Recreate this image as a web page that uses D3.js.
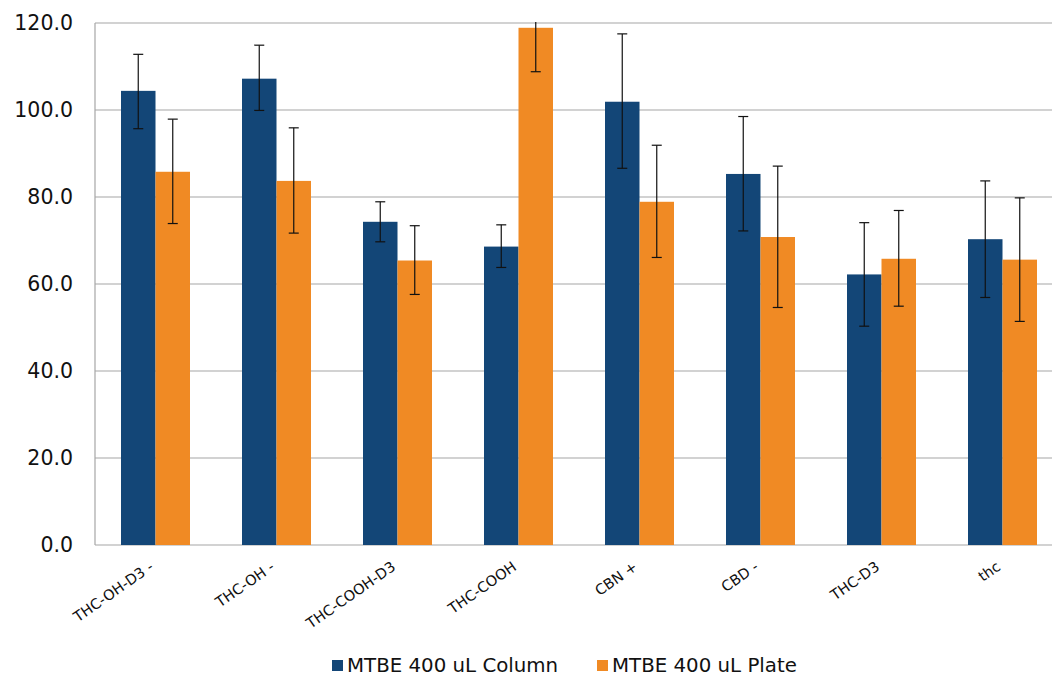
<!DOCTYPE html>
<html><head><meta charset="utf-8">
<script src="https://cdn.jsdelivr.net/npm/d3@7"></script>
<style>body{margin:0;background:#fff}svg{display:block}</style>
</head><body><svg id="c" width="1052" height="676"></svg>
<script>
const categories = ["THC-OH-D3 -","THC-OH -","THC-COOH-D3","THC-COOH","CBN +","CBD -","THC-D3","thc"];
const seriesNames = ["MTBE 400 uL Column","MTBE 400 uL Plate"];
const columnValues = [104.4,107.2,74.3,68.6,101.9,85.3,62.2,70.3];
const columnErrLow = [95.7,99.9,69.7,63.8,86.6,72.2,50.3,56.9];
const columnErrHigh = [112.8,114.9,78.9,73.6,117.5,98.5,74.1,83.7];
const plateValues = [85.8,83.7,65.4,118.9,78.9,70.8,65.8,65.6];
const plateErrLow = [73.9,71.7,57.6,108.8,66.1,54.6,54.9,51.4];
const plateErrHigh = [97.9,95.9,73.4,129.0,91.9,87.1,76.9,79.8];
const yTicks = [0,20,40,60,80,100,120];
const colors = ["#134677","#f08a24"];

const svg = d3.select("#c");
const m = {l:95, t:23, b:545, r:1063};
const x = d3.scaleBand().domain(categories).range([m.l, m.r]).paddingInner(0).paddingOuter(0);
const y = d3.scaleLinear().domain([0,120]).range([m.b, m.t]);
const groupFrac = 69/121;
const x1 = d3.scaleBand().domain([0,1]).range([0, x.bandwidth()*groupFrac]);
const off = x.bandwidth()*(1-groupFrac)/2;

svg.append("defs").append("clipPath").attr("id","clip").append("rect")
  .attr("x",m.l).attr("y",m.t-1).attr("width",m.r-m.l).attr("height",m.b-m.t+2);

svg.append("g").selectAll("line").data(yTicks).join("line")
  .attr("x1",m.l).attr("x2",1052).attr("y1",d=>y(d)).attr("y2",d=>y(d))
  .attr("stroke","#a6a6a6").attr("stroke-width",1.2);
svg.append("line").attr("x1",m.l).attr("x2",m.l).attr("y1",m.t).attr("y2",m.b).attr("stroke","#a6a6a6").attr("stroke-width",1.2);

const yAxis = d3.axisLeft(y).tickValues(yTicks).tickFormat(d3.format(".1f")).tickSize(0).tickPadding(22);
const ya = svg.append("g").attr("transform",`translate(${m.l},0)`).call(yAxis);
ya.select(".domain").remove();
ya.selectAll("text").attr("font-family","DejaVu Sans, Verdana, sans-serif").attr("font-size",20.5).attr("fill","#111");

const series = [
  {vals:columnValues, lo:columnErrLow, hi:columnErrHigh},
  {vals:plateValues, lo:plateErrLow, hi:plateErrHigh}
];
series.forEach((s,si)=>{
  svg.append("g").selectAll("rect").data(categories).join("rect")
    .attr("x",c=>x(c)+off+x1(si))
    .attr("width",x1.bandwidth())
    .attr("y",(c,i)=>y(s.vals[i]))
    .attr("height",(c,i)=>y(0)-y(s.vals[i]))
    .attr("fill",colors[si]);
});
series.forEach((s,si)=>{
  const g = svg.append("g").attr("clip-path","url(#clip)").attr("stroke","#111").attr("stroke-width",1.2);
  categories.forEach((c,i)=>{
    const cx = x(c)+off+x1(si)+x1.bandwidth()/2;
    g.append("line").attr("x1",cx).attr("x2",cx).attr("y1",y(s.lo[i])).attr("y2",y(s.hi[i]));
    g.append("line").attr("x1",cx-5).attr("x2",cx+5).attr("y1",y(s.lo[i])).attr("y2",y(s.lo[i]));
    g.append("line").attr("x1",cx-5).attr("x2",cx+5).attr("y1",y(s.hi[i])).attr("y2",y(s.hi[i]));
  });
});

svg.append("g").selectAll("text").data(categories).join("text")
  .attr("transform",c=>`translate(${x(c)+x.bandwidth()/2 - 1},${m.b+24}) rotate(-35)`)
  .attr("text-anchor","end")
  .attr("font-family","DejaVu Sans, Verdana, sans-serif").attr("font-size",14.5).attr("fill","#111")
  .text(d=>d);

const leg = svg.append("g").attr("font-family","DejaVu Sans, Verdana, sans-serif").attr("font-size",19.8).attr("fill","#111");
const legX = [332, 597];
seriesNames.forEach((n,i)=>{
  leg.append("rect").attr("x",legX[i]).attr("y",660).attr("width",11).attr("height",11).attr("fill",colors[i]);
  leg.append("text").attr("x",legX[i]+15).attr("y",672).text(n);
});
</script></body></html>
